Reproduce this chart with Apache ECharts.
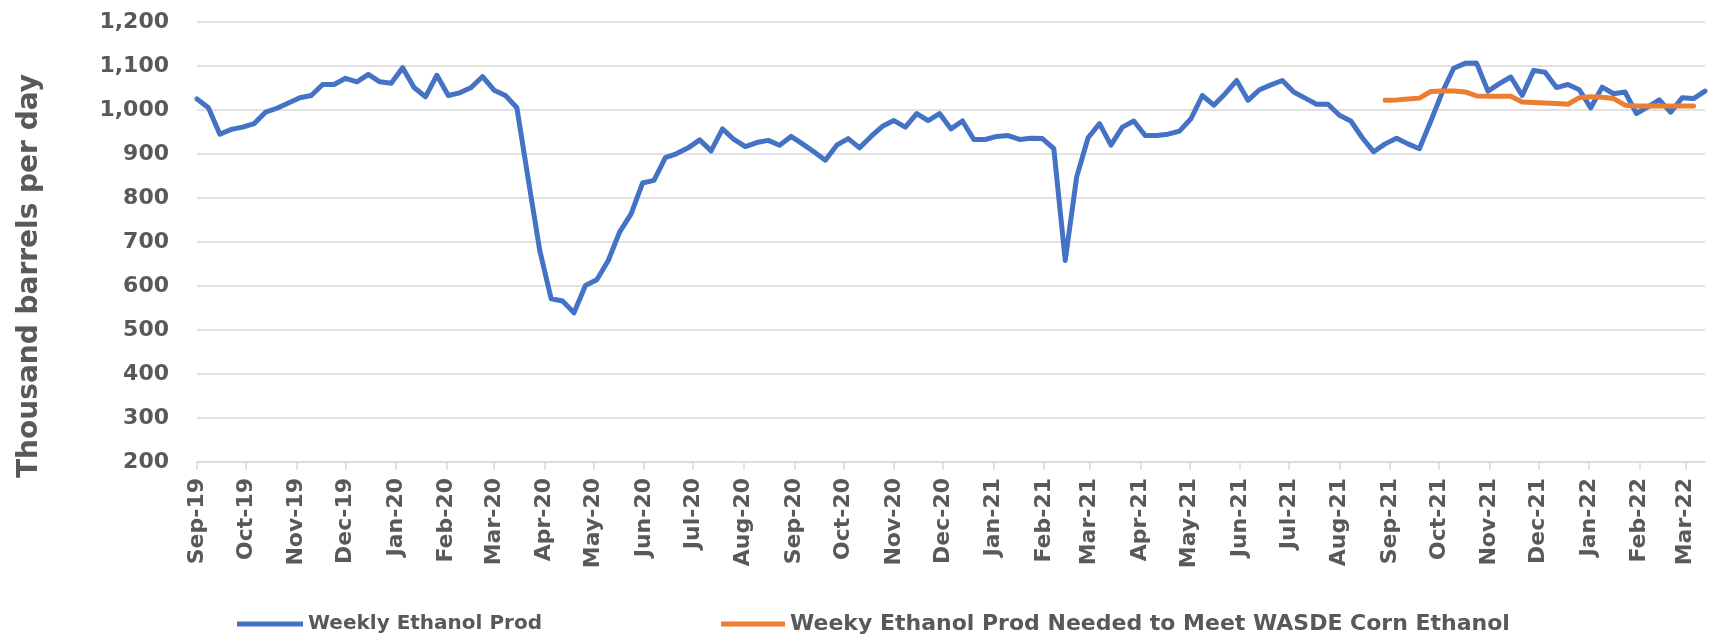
<!DOCTYPE html>
<html>
<head>
<meta charset="utf-8">
<script src="https://cdn.jsdelivr.net/npm/echarts@6/dist/echarts.min.js"></script>
<style>
html,body{margin:0;padding:0;background:#fff;}
#chart{width:1711px;height:637px;}
</style>
</head>
<body>
<div id="chart"></div>
<script>
// Weekly series, one value per week starting at firstWeek
const firstWeek = '2019-09-06';
const weeklyProd = [
  1025,1005,945,956,961,969,995,1004,1016,1028,
  1033,1058,1058,1072,1064,1081,1064,1061,1096,1051,
  1030,1079,1033,1039,1051,1076,1045,1033,1005,842,
  681,571,566,539,601,614,658,723,764,834,
  840,892,901,914,932,907,957,933,917,926,
  931,920,940,923,905,886,920,935,914,940,
  963,976,961,992,976,992,957,975,933,933,
  940,942,933,936,935,912,658,848,937,969,
  920,961,975,942,942,945,952,980,1033,1011,
  1037,1067,1022,1046,1057,1067,1041,1027,1013,1013,
  988,975,937,905,923,936,923,912,975,1040,
  1095,1106,1107,1043,1060,1075,1033,1090,1086,1051,
  1058,1046,1005,1052,1037,1041,992,1007,1023,995,
  1028,1026,1043
];
// WASDE-implied weekly production, starts at week index 104
const neededStartWeek = 104;
const neededProd = [
  1022,1023,1025,1027,1042,1043,1043,1041,1032,1031,
  1031,1031,1018,1017,1016,1015,1013,1028,1030,1029,
  1026,1011,1009,1009,1009,1009,1009,1009
];
const seriesNames = ['Weekly Ethanol Prod', 'Weeky Ethanol Prod Needed to Meet WASDE Corn Ethanol'];
const tickDates = [
  '2019-09-06','2019-10-06','2019-11-06','2019-12-06','2020-01-06','2020-02-06','2020-03-06',
  '2020-04-06','2020-05-06','2020-06-06','2020-07-06','2020-08-06','2020-09-06','2020-10-06',
  '2020-11-06','2020-12-06','2021-01-06','2021-02-06','2021-03-06','2021-04-06','2021-05-06',
  '2021-06-06','2021-07-06','2021-08-06','2021-09-06','2021-10-06','2021-11-06','2021-12-06',
  '2022-01-06','2022-02-06','2022-03-06'
];
const tickLabels = [
  'Sep-19','Oct-19','Nov-19','Dec-19','Jan-20','Feb-20','Mar-20','Apr-20','May-20','Jun-20',
  'Jul-20','Aug-20','Sep-20','Oct-20','Nov-20','Dec-20','Jan-21','Feb-21','Mar-21','Apr-21',
  'May-21','Jun-21','Jul-21','Aug-21','Sep-21','Oct-21','Nov-21','Dec-21','Jan-22','Feb-22','Mar-22'
];
const yAxisTitle = 'Thousand barrels per day';

// x positions are day offsets from the first week (date axis, base unit days)
function ts(s){ const p = s.split('-').map(Number); return Date.UTC(p[0], p[1]-1, p[2]); }
const DAY = 86400000;
const t0 = ts(firstWeek);
const weekDay = weeklyProd.map((_, i) => i * 7);
const tickDay = tickDates.map(s => Math.round((ts(s) - t0) / DAY));

const blueData = weeklyProd.map((v, i) => [weekDay[i], v]);
const orangeData = neededProd.map((v, i) => [weekDay[neededStartWeek + i], v]);

const FONT = 'DejaVu Sans';
const TXT = '#595959';

const chart = echarts.init(document.getElementById('chart'), null, {renderer: 'canvas'});
chart.setOption({
  animation: false,
  backgroundColor: '#ffffff',
  grid: {left: 197, right: 6, top: 22, bottom: 175, containLabel: false, outerBoundsMode: 'none'},
  xAxis: {
    type: 'value',
    min: 0,
    max: weekDay[weekDay.length - 1],
    axisLine: {show: true, onZero: false, lineStyle: {color: '#d9d9d9', width: 1.5}},
    axisTick: {show: true, customValues: tickDay, length: 8, inside: false, lineStyle: {color: '#d9d9d9', width: 1.5}},
    axisLabel: {
      customValues: tickDay,
      rotate: 90,
      margin: 16,
      color: TXT,
      fontFamily: FONT,
      fontWeight: 'bold',
      fontSize: 22,
      showMinLabel: true,
      showMaxLabel: true,
      hideOverlap: false,
      formatter: function (v) {
        const idx = tickDay.indexOf(Math.round(v));
        return idx >= 0 ? tickLabels[idx] : '';
      }
    },
    splitLine: {show: false}
  },
  yAxis: {
    type: 'value',
    min: 200,
    max: 1200,
    interval: 100,
    axisLine: {show: false},
    axisTick: {show: false},
    axisLabel: {
      margin: 28,
      color: TXT,
      fontFamily: FONT,
      fontWeight: 'bold',
      fontSize: 22,
      formatter: v => v.toLocaleString('en-US')
    },
    splitLine: {lineStyle: {color: '#d9d9d9', width: 1.5}}
  },
  legend: [
    {
      data: [seriesNames[0]], left: 232, top: 609,
      icon: 'rect', itemWidth: 66, itemHeight: 5,
      textStyle: {color: TXT, fontFamily: FONT, fontWeight: 'bold', fontSize: 20}
    },
    {
      data: [seriesNames[1]], left: 716, top: 608,
      icon: 'rect', itemWidth: 64, itemHeight: 5,
      textStyle: {color: TXT, fontFamily: FONT, fontWeight: 'bold', fontSize: 22}
    }
  ],
  graphic: [{
    type: 'text',
    x: 30, y: 276,
    rotation: Math.PI / 2,
    style: {
      text: yAxisTitle,
      fill: TXT,
      font: 'bold 28px "DejaVu Sans"',
      textAlign: 'center',
      textVerticalAlign: 'middle'
    }
  }],
  series: [
    {
      name: seriesNames[0], type: 'line', data: blueData,
      showSymbol: false, symbol: 'none',
      lineStyle: {color: '#4472C4', width: 5, join: 'round', cap: 'round'},
      itemStyle: {color: '#4472C4'}
    },
    {
      name: seriesNames[1], type: 'line', data: orangeData,
      showSymbol: false, symbol: 'none',
      lineStyle: {color: '#ED7D31', width: 5, join: 'round', cap: 'round'},
      itemStyle: {color: '#ED7D31'}
    }
  ]
});
</script>
</body>
</html>
